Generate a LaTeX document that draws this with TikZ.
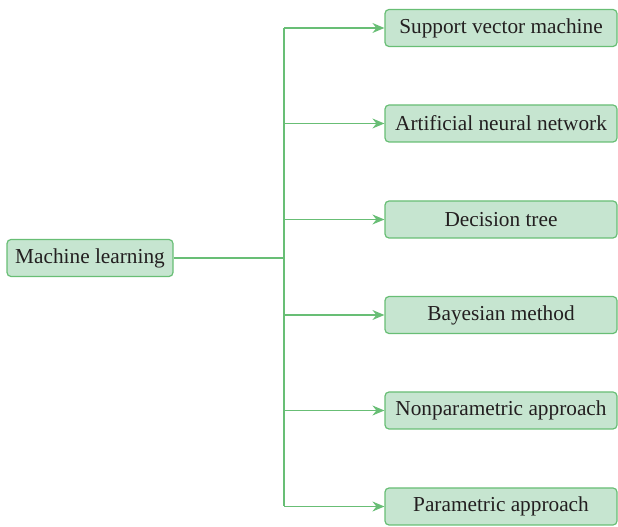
\documentclass[tikz,border=0pt]{standalone}
\usepackage{fontspec}
\setmainfont{Liberation Serif}
\usetikzlibrary{arrows.meta}
\definecolor{boxfill}{RGB}{198,229,208}
\definecolor{boxline}{RGB}{104,190,117}
\definecolor{txt}{RGB}{35,31,32}
\tikzset{
  box/.style={draw=boxline, fill=boxfill, line width=1.2pt, rounded corners=4pt,
    minimum height=37pt, inner sep=0pt, text=txt, font=\fontsize{21.3}{25}\selectfont},
  leaf/.style={box, minimum width=232pt},
  conn/.style={draw=boxline, line width=1.3pt},
  arr/.style={conn, -{Stealth[length=12pt,width=10pt,inset=4pt]}}
}
\begin{document}
\begin{tikzpicture}[x=1pt,y=1pt]
\useasboundingbox (0,0) rectangle (618,527);
\node[box, minimum width=166pt] (ml) at (90,269) {Machine learning};
\node[leaf] (a) at (501,499) {Support vector machine};
\node[leaf] (b) at (501,403.5) {Artificial neural network};
\node[leaf] (c) at (501,307.5) {Decision tree};
\node[leaf] (d) at (501,212) {Bayesian method};
\node[leaf] (e) at (501,116.5) {Nonparametric approach};
\node[leaf] (f) at (501,20.5) {Parametric approach};
\coordinate (top) at (284,499);
\coordinate (bot) at (284,20.5);
\coordinate (mid) at (284,269);
\draw[conn] (ml.east) -- (mid);
\draw[conn] (top) -- (bot);
\foreach \n in {a,b,c,d,e,f} {
  \draw[arr] (top |- \n.west) -- (\n.west);
}
\end{tikzpicture}
\end{document}
